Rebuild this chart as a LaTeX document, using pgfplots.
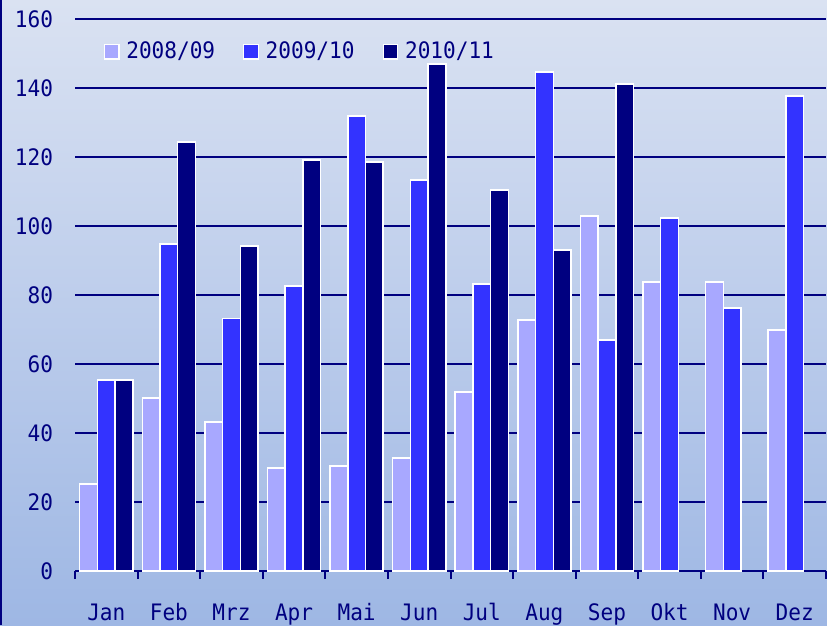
\documentclass[border=0pt]{standalone}
\usepackage{fontspec}
\setmainfont{DejaVu Sans Mono}[FakeStretch=0.93]
\usepackage{pgfplots}
\pgfplotsset{compat=1.18}
\definecolor{cA}{HTML}{A8A8FF}
\definecolor{cB}{HTML}{3333FF}
\definecolor{cC}{HTML}{000080}
\definecolor{bgtop}{HTML}{DAE2F2}
\definecolor{bgbot}{HTML}{9EB7E4}
\pgfplotsset{sqleg/.style={legend image code/.code={\draw[##1,draw=white,line width=0.9pt] (0pt,-5.5pt) rectangle (11pt,5.5pt);}}}
\begin{document}
\begin{tikzpicture}[x=0.75pt,y=0.75pt]
\useasboundingbox (0,0) rectangle (827,625);
\shade[top color=bgtop,bottom color=bgbot] (0,0) rectangle (827,625);
\fill[cC] (0,0) rectangle (2,625);
\begin{axis}[
  at={(56.25pt,40.5pt)}, anchor=south west,
  scale only axis, width=563.25pt, height=414pt,
  xmin=-0.5, xmax=11.5, ymin=0, ymax=160,
  ybar, bar width=0.283,
  axis x line*=bottom, axis y line*=left,
  y axis line style={draw=none},
  x axis line style={cC, line width=1.5pt},
  xtick={0,...,11},
  xticklabels={Jan,Feb,Mrz,Apr,Mai,Jun,Jul,Aug,Sep,Okt,Nov,Dez},
  minor xtick={-0.5,0.5,...,11.5},
  major tick length=0pt, minor tick length=6pt,
  tick align=outside,
  xtick style={cC, line width=1.5pt},
  ytick={0,20,...,160},
  ytick style={draw=none},
  ymajorgrids, major grid style={cC, line width=1.5pt},
  /pgf/number format/assume math mode=true,
  tick label style={font=\fontsize{17}{20}\selectfont, text=cC},
  xticklabel style={anchor=base, yshift=-36.75pt},
  yticklabel style={xshift=-13pt},
  legend columns=3,
  legend style={at={(rel axis cs:0.038,0.941)}, anchor=west, draw=none, fill=none, inner sep=0pt,
    font=\fontsize{17}{20}\selectfont, text=cC,
    /tikz/every odd column/.append style={column sep=3pt},
    /tikz/every even column/.append style={column sep=19pt}},
]
\addplot[fill=cA, draw=white, line width=1.1pt, bar shift=-0.283, sqleg] coordinates {
(0,25.2) (1,50.1) (2,43.2) (3,29.9) (4,30.4) (5,32.8) (6,51.9) (7,72.8) (8,102.9) (9,83.8) (10,83.8) (11,69.9)};
\addplot[fill=cB, draw=white, line width=1.1pt, bar shift=0, sqleg] coordinates {
(0,55.3) (1,94.8) (2,73.2) (3,82.6) (4,131.9) (5,113.3) (6,83.2) (7,144.6) (8,67) (9,102.3) (10,76.2) (11,137.7)};
\addplot[fill=cC, draw=white, line width=1.1pt, bar shift=0.283, sqleg] coordinates {
(0,55.3) (1,124.3) (2,94.2) (3,119.1) (4,118.6) (5,147) (6,110.4) (7,93) (8,141.2)};
\legend{2008/09,2009/10,2010/11}
\end{axis}
\end{tikzpicture}
\end{document}
